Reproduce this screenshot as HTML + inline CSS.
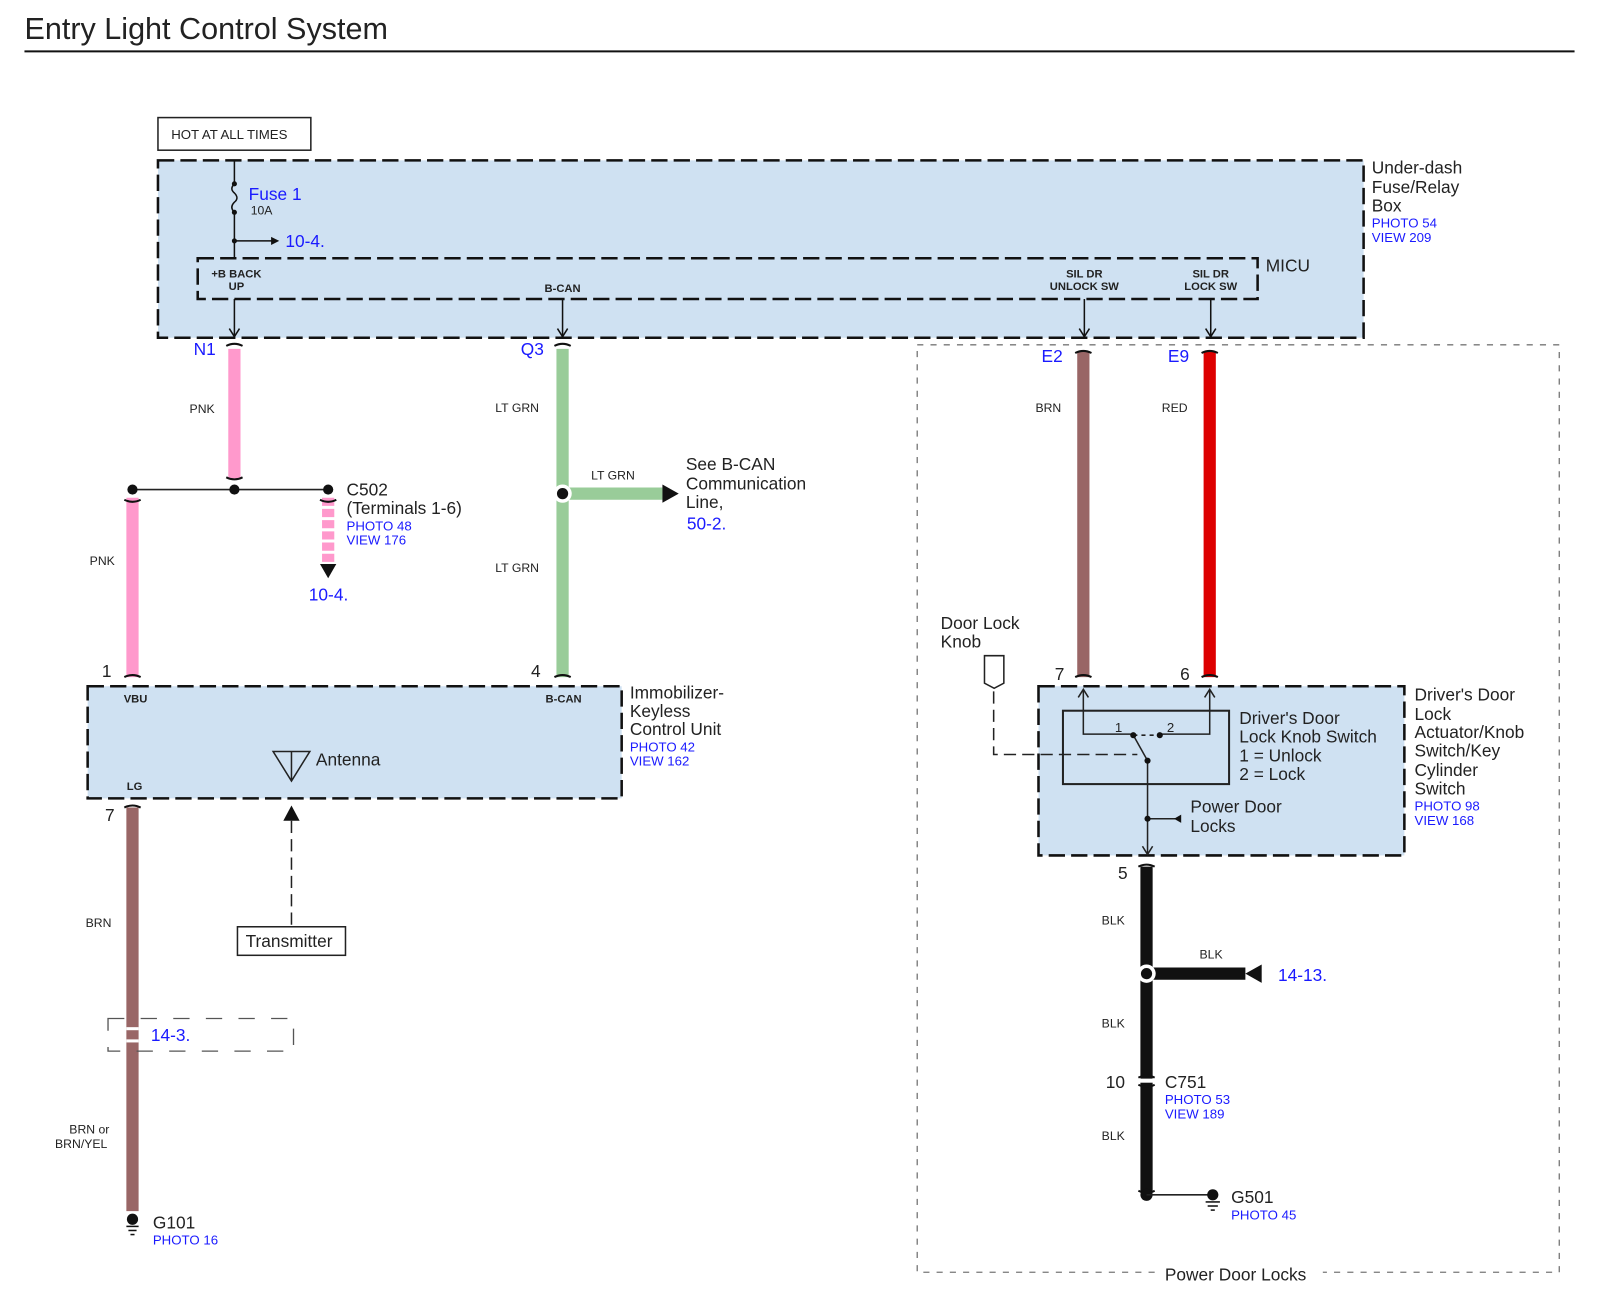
<!DOCTYPE html>
<html><head><meta charset="utf-8"><style>
html,body{margin:0;padding:0;background:#fff;width:1598px;height:1292px;overflow:hidden}
svg{display:block}
text{font-family:"Liberation Sans",Arial,sans-serif;fill:#222}
.b{fill:#1a1aff}
.s{font-size:12px}
.m{font-size:17px}
.p{font-size:13px}
</style></head><body>
<svg width="1598" height="1292" viewBox="0 0 1568 1267" xmlns="http://www.w3.org/2000/svg">
<text x="24" y="38" font-size="30">Entry Light Control System</text>
<line x1="24" y1="50" x2="1545" y2="50" stroke="#111" stroke-width="2"/>

<rect x="900" y="338" width="630" height="910" fill="none" stroke="#777" stroke-width="1.3" stroke-dasharray="6,7"/>
<rect x="1136" y="1240" width="162" height="18" fill="#fff"/>
<text x="1143" y="1256" class="m">Power Door Locks</text>

<rect x="155" y="115" width="150" height="32" fill="#fff" stroke="#222" stroke-width="1.5"/>
<text x="168" y="136" font-size="13">HOT AT ALL TIMES</text>

<rect x="155" y="157" width="1183" height="174" fill="#cfe1f2" stroke="#111" stroke-width="2.5" stroke-dasharray="16,6"/>
<text x="1346" y="170" class="m">Under-dash</text>
<text x="1346" y="189" class="m">Fuse/Relay</text>
<text x="1346" y="207" class="m">Box</text>
<text x="1346" y="223" class="p b">PHOTO 54</text>
<text x="1346" y="237" class="p b">VIEW 209</text>
<rect x="194" y="253" width="1040" height="40" fill="none" stroke="#111" stroke-width="2.5" stroke-dasharray="16,6"/>
<text x="1242" y="266" class="m">MICU</text>

<g stroke="#111" stroke-width="1.5" fill="none">
<line x1="230" y1="157" x2="230" y2="180"/>
<path d="M230 180 q-5 5 0 9 q5 5 0 9 q-5 5 0 10"/>
<line x1="230" y1="208" x2="230" y2="253"/>
<line x1="230" y1="236" x2="268" y2="236"/>
<line x1="230" y1="293" x2="230" y2="330"/>
<line x1="552" y1="293" x2="552" y2="330"/>
<line x1="1064" y1="293" x2="1064" y2="330"/>
<line x1="1188" y1="293" x2="1188" y2="330"/>
<path d="M225 322 L230 330 L235 322 M547 322 L552 330 L557 322 M1059 322 L1064 330 L1069 322 M1183 322 L1188 330 L1193 322"/>
</g>
<polygon points="266,232 274,236 266,240" fill="#111"/>
<circle cx="230" cy="180" r="2.5" fill="#111"/><circle cx="230" cy="208" r="2.5" fill="#111"/><circle cx="230" cy="236" r="2.5" fill="#111"/>
<text x="244" y="196" class="m b">Fuse 1</text>
<text x="246" y="210" class="s">10A</text>
<text x="280" y="242" class="m b">10-4.</text>
<g font-size="11" text-anchor="middle" font-weight="bold">
<text x="232" y="272">+B BACK</text><text x="232" y="284">UP</text>
<text x="552" y="286">B-CAN</text>
<text x="1064" y="272">SIL DR</text><text x="1064" y="284">UNLOCK SW</text>
<text x="1188" y="272">SIL DR</text><text x="1188" y="284">LOCK SW</text>
</g>
<text x="190" y="348" class="m b">N1</text>
<text x="511" y="348" class="m b">Q3</text>
<text x="1022" y="355" class="m b">E2</text>
<text x="1146" y="355" class="m b">E9</text>

<line x1="230" y1="342" x2="230" y2="470" stroke="#ff99cc" stroke-width="12"/>
<line x1="130" y1="488" x2="130" y2="664" stroke="#ff99cc" stroke-width="12"/>
<line x1="322" y1="488" x2="322" y2="553" stroke="#ff99cc" stroke-width="12" stroke-dasharray="8,3"/>
<polygon points="314,553 330,553 322,567" fill="#111"/>
<line x1="552" y1="342" x2="552" y2="664" stroke="#99cc99" stroke-width="12"/>
<line x1="552" y1="484" x2="650" y2="484" stroke="#99cc99" stroke-width="12"/>
<polygon points="650,475 666,484 650,493" fill="#111"/>
<circle cx="552" cy="484" r="9" fill="#fff"/><circle cx="552" cy="484" r="5.5" fill="#111"/>
<line x1="1063" y1="344" x2="1063" y2="664" stroke="#996666" stroke-width="12"/>
<line x1="1187" y1="344" x2="1187" y2="664" stroke="#dd0000" stroke-width="12"/>
<line x1="130" y1="792" x2="130" y2="1188" stroke="#996666" stroke-width="12"/>
<line x1="124" y1="1009" x2="136" y2="1009" stroke="#fff" stroke-width="3"/>
<line x1="124" y1="1021" x2="136" y2="1021" stroke="#fff" stroke-width="3"/>
<line x1="1125" y1="850" x2="1125" y2="1170" stroke="#111" stroke-width="12"/>
<line x1="1125" y1="955" x2="1222" y2="955" stroke="#111" stroke-width="12"/>
<polygon points="1222,955 1238,946 1238,964" fill="#111"/>
<circle cx="1125" cy="955" r="9" fill="#fff"/><circle cx="1125" cy="955" r="5.5" fill="#111"/>
<line x1="1118" y1="1060" x2="1132" y2="1060" stroke="#fff" stroke-width="4"/>

<g stroke="#111" stroke-width="2" fill="none">
<path d="M222 339 q8 -4 16 0 M544 339 q8 -4 16 0 M1055 346 q8 -4 16 0 M1179 346 q8 -4 16 0"/>
<path d="M222 468 q8 4 16 0 M122 664 q8 -4 16 0 M544 664 q8 -4 16 0 M1055 664 q8 -4 16 0 M1179 664 q8 -4 16 0"/>
<path d="M122 490 q8 4 16 0 M314 490 q8 4 16 0 M122 792 q8 -4 16 0 M1117 850 q8 -4 16 0 M1117 1057 q8 -4 16 0 M1117 1064 q8 4 16 0 M1117 1168 q8 4 16 0"/>
</g>
<line x1="130" y1="480" x2="322" y2="480" stroke="#222" stroke-width="1.5"/>
<circle cx="130" cy="480" r="5" fill="#111"/><circle cx="230" cy="480" r="5" fill="#111"/><circle cx="322" cy="480" r="5" fill="#111"/>

<text x="186" y="405" class="s">PNK</text>
<text x="88" y="554" class="s">PNK</text>
<text x="340" y="486" class="m">C502</text>
<text x="340" y="504" class="m">(Terminals 1-6)</text>
<text x="340" y="520" class="p b">PHOTO 48</text>
<text x="340" y="534" class="p b">VIEW 176</text>
<text x="303" y="589" class="m b">10-4.</text>
<text x="486" y="404" class="s">LT GRN</text>
<text x="486" y="561" class="s">LT GRN</text>
<text x="580" y="470" class="s">LT GRN</text>
<text x="673" y="461" class="m">See B-CAN</text>
<text x="673" y="480" class="m">Communication</text>
<text x="673" y="498" class="m">Line,</text>
<text x="674" y="519" class="m b">50-2.</text>
<text x="100" y="664" class="m">1</text>
<text x="521" y="664" class="m">4</text>
<text x="103" y="805" class="m">7</text>

<rect x="86" y="673" width="524" height="110" fill="#cfe1f2" stroke="#111" stroke-width="2.5" stroke-dasharray="16,6"/>
<g font-size="11" font-weight="bold" text-anchor="middle">
<text x="133" y="689">VBU</text><text x="553" y="689">B-CAN</text><text x="132" y="775">LG</text>
</g>
<path d="M268 737 L304 737 L286 766 Z M286 737 L286 766" fill="none" stroke="#222" stroke-width="1.5"/>
<text x="310" y="751" class="m">Antenna</text>
<text x="618" y="685" class="m">Immobilizer-</text>
<text x="618" y="703" class="m">Keyless</text>
<text x="618" y="721" class="m">Control Unit</text>
<text x="618" y="737" class="p b">PHOTO 42</text>
<text x="618" y="751" class="p b">VIEW 162</text>
<polygon points="278,805 294,805 286,790" fill="#111"/>
<line x1="286" y1="805" x2="286" y2="909" stroke="#222" stroke-width="1.5" stroke-dasharray="12,6"/>
<rect x="233" y="909" width="106" height="28" fill="#fff" stroke="#222" stroke-width="1.5"/>
<text x="241" y="929" class="m">Transmitter</text>

<text x="84" y="909" class="s">BRN</text>
<rect x="106" y="999" width="182" height="32" fill="none" stroke="#555" stroke-width="1.3" stroke-dasharray="16,16"/>
<text x="148" y="1021" class="m b">14-3.</text>
<text x="68" y="1112" class="s">BRN or</text>
<text x="54" y="1126" class="s">BRN/YEL</text>
<circle cx="130" cy="1196" r="5.5" fill="#111"/>
<g stroke="#111" stroke-width="1.5"><line x1="124" y1="1203" x2="136" y2="1203"/><line x1="126" y1="1207" x2="134" y2="1207"/><line x1="128" y1="1211" x2="132" y2="1211"/></g>
<text x="150" y="1205" class="m">G101</text>
<text x="150" y="1221" class="p b">PHOTO 16</text>

<text x="1016" y="404" class="s">BRN</text>
<text x="1140" y="404" class="s">RED</text>
<text x="1035" y="667" class="m">7</text>
<text x="1158" y="667" class="m">6</text>
<text x="923" y="617" class="m">Door Lock</text>
<text x="923" y="635" class="m">Knob</text>
<path d="M966 643 L985 643 L985 670 L975.5 675 L966 670 Z" fill="#fff" stroke="#222" stroke-width="1.5"/>
<rect x="1019" y="673" width="359" height="166" fill="#cfe1f2" stroke="#111" stroke-width="2.5" stroke-dasharray="16,6"/>
<path d="M975 678 L975 740 L1116 740" fill="none" stroke="#222" stroke-width="1.5" stroke-dasharray="12,6"/>
<rect x="1043" y="697" width="163" height="72" fill="none" stroke="#222" stroke-width="2"/>
<g stroke="#222" stroke-width="1.5" fill="none">
<path d="M1063 676 L1063 720 L1112 720"/>
<path d="M1138 720 L1187 720 L1187 676"/>
<path d="M1058 684 L1063 676 L1068 684 M1182 684 L1187 676 L1192 684"/>
<line x1="1112" y1="721" x2="1138" y2="721" stroke-dasharray="4,4"/>
<line x1="1112" y1="721" x2="1126" y2="746"/>
<line x1="1126" y1="746" x2="1126" y2="838"/>
<line x1="1126" y1="803" x2="1156" y2="803"/>
<path d="M1121 830 L1126 838 L1131 830"/>
</g>
<circle cx="1112" cy="721" r="3" fill="#111"/><circle cx="1138" cy="721" r="3" fill="#111"/>
<circle cx="1126" cy="746" r="3" fill="#111"/><circle cx="1126" cy="803" r="3" fill="#111"/>
<polygon points="1152,803 1159,799 1159,807" fill="#111"/>
<text x="1094" y="718" class="p">1</text><text x="1145" y="718" class="p">2</text>
<text x="1216" y="710" class="m">Driver's Door</text>
<text x="1216" y="728" class="m">Lock Knob Switch</text>
<text x="1216" y="747" class="m">1 = Unlock</text>
<text x="1216" y="765" class="m">2 = Lock</text>
<text x="1168" y="797" class="m">Power Door</text>
<text x="1168" y="816" class="m">Locks</text>
<text x="1388" y="687" class="m">Driver's Door</text>
<text x="1388" y="706" class="m">Lock</text>
<text x="1388" y="724" class="m">Actuator/Knob</text>
<text x="1388" y="742" class="m">Switch/Key</text>
<text x="1388" y="761" class="m">Cylinder</text>
<text x="1388" y="779" class="m">Switch</text>
<text x="1388" y="795" class="p b">PHOTO 98</text>
<text x="1388" y="809" class="p b">VIEW 168</text>

<text x="1097" y="862" class="m">5</text>
<text x="1081" y="907" class="s">BLK</text>
<text x="1177" y="940" class="s">BLK</text>
<text x="1254" y="962" class="m b">14-13.</text>
<text x="1081" y="1008" class="s">BLK</text>
<text x="1085" y="1067" class="m">10</text>
<text x="1143" y="1067" class="m">C751</text>
<text x="1143" y="1083" class="p b">PHOTO 53</text>
<text x="1143" y="1097" class="p b">VIEW 189</text>
<text x="1081" y="1118" class="s">BLK</text>
<circle cx="1125" cy="1172" r="6" fill="#111"/>
<line x1="1125" y1="1172" x2="1190" y2="1172" stroke="#222" stroke-width="1.5"/>
<circle cx="1190" cy="1172" r="5.5" fill="#111"/>
<g stroke="#111" stroke-width="1.5"><line x1="1183" y1="1179" x2="1197" y2="1179"/><line x1="1185" y1="1183" x2="1195" y2="1183"/><line x1="1188" y1="1187" x2="1192" y2="1187"/></g>
<text x="1208" y="1180" class="m">G501</text>
<text x="1208" y="1196" class="p b">PHOTO 45</text>
</svg>
</body></html>
